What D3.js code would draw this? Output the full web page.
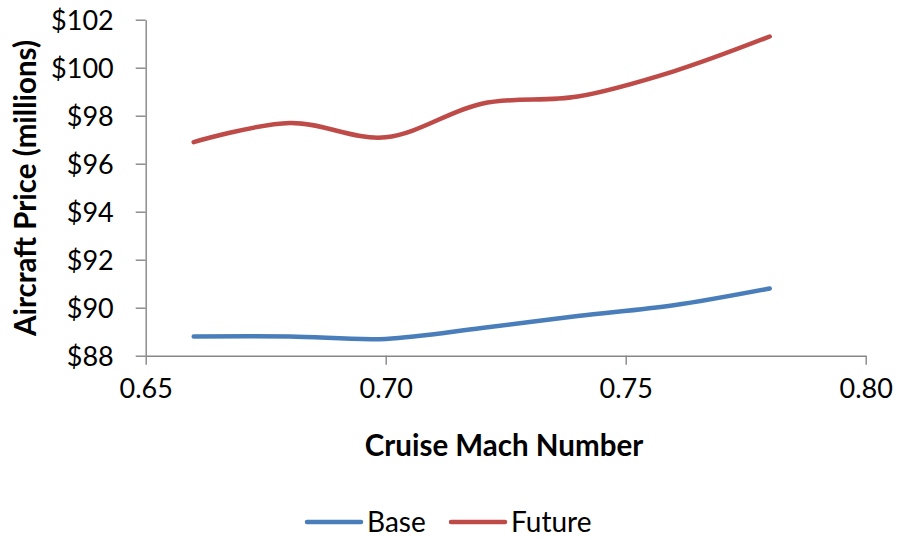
<!DOCTYPE html>
<html>
<head>
<meta charset="utf-8">
<script src="https://cdn.jsdelivr.net/npm/d3@7"></script>
<style>
  html, body { margin: 0; padding: 0; background: #fff; }
  svg { display: block; font-family: Lato, "Open Sans", sans-serif; }
</style>
</head>
<body>
<svg id="chart" width="900" height="540"></svg>
<script>
// Cruise Mach number sample points
const mach = [0.66, 0.68, 0.70, 0.72, 0.74, 0.76, 0.78];
// Aircraft price, millions of dollars
const basePrice   = [88.8, 88.8, 88.7, 89.15, 89.65, 90.1, 90.8];
const futurePrice = [96.9, 97.7, 97.1, 98.5, 98.8, 99.85, 101.3];

const seriesNames = ["Base", "Future"];
const seriesColors = ["#4A7EBB", "#BE4B48"];

const xTicks = [0.65, 0.70, 0.75, 0.80];
const yTicks = [88, 90, 92, 94, 96, 98, 100, 102];

const svg = d3.select("#chart");
const margin = { left: 145.7, right: 34.3, top: 19.7, bottom: 184.3 };
const W = 900, H = 540;

const x = d3.scaleLinear().domain([0.65, 0.80]).range([margin.left, W - margin.right]);
const y = d3.scaleLinear().domain([88, 102]).range([H - margin.bottom, margin.top]);

const axisColor = "#868686";

// Y axis
const yAxis = svg.append("g")
  .attr("transform", `translate(${margin.left},0)`)
  .call(d3.axisLeft(y).tickValues(yTicks).tickSize(10).tickSizeOuter(0)
    .tickFormat(d => "$" + d));
// X axis
const xAxis = svg.append("g")
  .attr("transform", `translate(0,${H - margin.bottom})`)
  .call(d3.axisBottom(x).tickValues(xTicks).tickSize(9).tickSizeOuter(0)
    .tickFormat(d3.format(".2f")));

[yAxis, xAxis].forEach(g => {
  g.select(".domain").attr("stroke", axisColor).attr("stroke-width", 1.4);
  g.selectAll(".tick line").attr("stroke", axisColor).attr("stroke-width", 1.4);
  g.selectAll(".tick text").attr("fill", "#000").attr("font-size", 27)
    .attr("font-family", "Lato, sans-serif");
});
yAxis.selectAll(".tick text").attr("x", -32).attr("dy", "0.36em");
xAxis.selectAll(".tick text").attr("y", 23).attr("dy", "0.72em");

// Axis titles
svg.append("text")
  .attr("x", 504).attr("y", 456)
  .attr("text-anchor", "middle")
  .attr("font-size", 29.5).attr("font-weight", "bold")
  .text("Cruise Mach Number");

svg.append("text")
  .attr("transform", "translate(36,188) rotate(-90)")
  .attr("text-anchor", "middle")
  .attr("font-size", 29.5).attr("font-weight", "bold")
  .text("Aircraft Price (millions)");

// Smoothed series lines
const line = d3.line()
  .x(d => x(d[0]))
  .y(d => y(d[1]))
  .curve(d3.curveCatmullRom.alpha(0));

const series = [basePrice, futurePrice];
series.forEach((vals, i) => {
  svg.append("path")
    .datum(mach.map((m, j) => [m, vals[j]]))
    .attr("fill", "none")
    .attr("stroke", seriesColors[i])
    .attr("stroke-width", 4.5)
    .attr("stroke-linecap", "round")
    .attr("stroke-linejoin", "round")
    .attr("d", line);
});

// Legend
const legendItems = [
  { name: seriesNames[0], color: seriesColors[0], x0: 307 },
  { name: seriesNames[1], color: seriesColors[1], x0: 451 }
];
legendItems.forEach(it => {
  svg.append("line")
    .attr("x1", it.x0).attr("x2", it.x0 + 54)
    .attr("y1", 522).attr("y2", 522)
    .attr("stroke", it.color).attr("stroke-width", 4.5)
    .attr("stroke-linecap", "round");
  svg.append("text")
    .attr("x", it.x0 + 60).attr("y", 532)
    .attr("font-size", 28)
    .text(it.name);
});
</script>
</body>
</html>
